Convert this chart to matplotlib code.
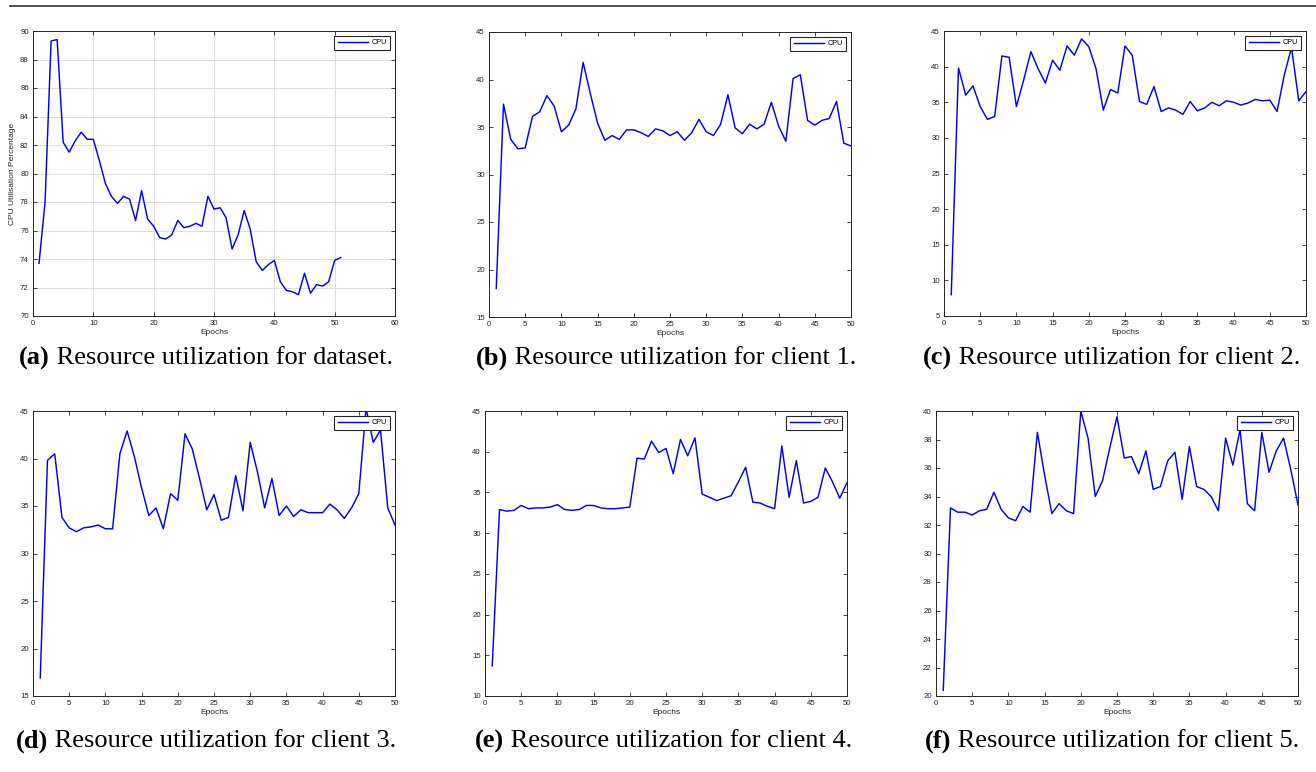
import matplotlib
matplotlib.use("Agg")
import matplotlib.pyplot as plt
from matplotlib.lines import Line2D

W, H = 1316, 772

dataset_cpu = [73.7, 78.0, 89.3, 89.4, 82.2, 81.5, 82.3, 82.9, 82.4, 82.4,
               80.9, 79.3, 78.4, 77.9, 78.4, 78.2, 76.7, 78.8, 76.8, 76.3,
               75.5, 75.4, 75.7, 76.7, 76.2, 76.3, 76.5, 76.3, 78.4, 77.5,
               77.6, 76.9, 74.7, 75.7, 77.4, 76.1, 73.8, 73.2, 73.6, 73.9,
               72.4, 71.8, 71.7, 71.5, 73.0, 71.6, 72.2, 72.1, 72.4, 73.9, 74.1]
client1_cpu = [18.0, 37.4, 33.7, 32.7, 32.8, 36.1, 36.6, 38.3, 37.2, 34.5,
               35.2, 36.9, 41.8, 38.5, 35.4, 33.6, 34.1, 33.7, 34.7, 34.7,
               34.4, 34.0, 34.8, 34.6, 34.1, 34.5, 33.6, 34.4, 35.8, 34.5,
               34.1, 35.3, 38.4, 34.9, 34.3, 35.3, 34.8, 35.3, 37.6, 35.1,
               33.5, 40.1, 40.5, 35.7, 35.2, 35.7, 35.9, 37.7, 33.3, 33.0]
client2_cpu = [8.0, 39.8, 36.0, 37.3, 34.4, 32.6, 33.0, 41.5, 41.3, 34.4,
               38.1, 42.1, 39.7, 37.7, 40.9, 39.5, 42.9, 41.6, 43.9, 42.8,
               39.7, 33.9, 36.8, 36.3, 42.9, 41.6, 35.1, 34.7, 37.2, 33.7,
               34.2, 33.9, 33.3, 35.1, 33.8, 34.2, 35.0, 34.5, 35.2, 35.0,
               34.6, 34.9, 35.4, 35.2, 35.3, 33.7, 38.8, 42.7, 35.2, 36.5]
client3_cpu = [16.9, 39.8, 40.5, 33.8, 32.7, 32.3, 32.7, 32.8, 33.0, 32.6,
               32.6, 40.5, 42.9, 40.2, 36.9, 34.0, 34.8, 32.6, 36.3, 35.6,
               42.6, 41.0, 37.9, 34.6, 36.2, 33.5, 33.8, 38.2, 34.5, 41.7,
               38.6, 34.8, 37.9, 34.0, 35.0, 33.9, 34.6, 34.3, 34.3, 34.3,
               35.2, 34.6, 33.7, 34.8, 36.3, 45.3, 41.7, 43.0, 34.8, 33.0]
client4_cpu = [13.7, 32.9, 32.7, 32.8, 33.4, 33.0, 33.1, 33.1, 33.2, 33.5,
               32.9, 32.8, 32.9, 33.4, 33.4, 33.1, 33.0, 33.0, 33.1, 33.2,
               39.2, 39.1, 41.3, 39.9, 40.4, 37.3, 41.5, 39.5, 41.7, 34.8,
               34.4, 34.0, 34.3, 34.6, 36.3, 38.1, 33.8, 33.7, 33.3, 33.0,
               40.7, 34.4, 38.9, 33.7, 33.9, 34.4, 38.0, 36.3, 34.3, 36.2]
client5_cpu = [20.4, 33.2, 32.9, 32.9, 32.7, 33.0, 33.1, 34.3, 33.1, 32.5,
               32.3, 33.3, 32.9, 38.5, 35.5, 32.8, 33.5, 33.0, 32.8, 40.0,
               38.1, 34.0, 35.1, 37.4, 39.6, 36.7, 36.8, 35.6, 37.2, 34.5,
               34.7, 36.5, 37.1, 33.8, 37.5, 34.7, 34.5, 34.0, 33.0, 38.1,
               36.2, 38.7, 33.5, 33.0, 38.5, 35.7, 37.2, 38.1, 35.9, 33.4]

captions = [("(a)", " Resource utilization for dataset."),
            ("(b)", " Resource utilization for client 1."),
            ("(c)", " Resource utilization for client 2."),
            ("(d)", " Resource utilization for client 3."),
            ("(e)", " Resource utilization for client 4."),
            ("(f)", " Resource utilization for client 5.")]

series = [dataset_cpu, client1_cpu, client2_cpu, client3_cpu, client4_cpu, client5_cpu]
xlims = [(0, 60), (0, 50), (0, 50), (0, 50), (0, 50), (0, 50)]
xsteps = [10, 5, 5, 5, 5, 5]
ylims = [(70, 90), (15, 45), (5, 45), (15, 45), (10, 45), (20, 40)]
ysteps = [2, 5, 5, 5, 5, 2]

# axes boxes in pixels: left, right, top, bottom
boxes = [(33, 395, 31, 316), (489, 851, 32, 317), (944, 1306, 31, 316),
         (33, 395, 411, 696), (485, 847, 411, 696), (936, 1298, 411, 696)]
caption_x = [206, 666, 1112, 206, 664, 1112]
caption_y = [358, 358, 358, 741, 741, 741]

plt.rcParams['font.family'] = ['Liberation Sans', 'DejaVu Sans']
fig = plt.figure(figsize=(W / 100, H / 100), dpi=100)

# top rule
fig.add_artist(Line2D([10 / W, 1.0], [1 - 6 / H, 1 - 6 / H], color='#333333', lw=1.2))

axcol = '#262626'
cap_texts = []
for i, (ys, box) in enumerate(zip(series, boxes)):
    l, r, t, b = box
    ax = fig.add_axes([l / W, 1 - b / H, (r - l) / W, (b - t) / H])
    xs = list(range(1, len(ys) + 1))
    ax.plot(xs, ys, color=(0, 0, 1), lw=1.05, label='CPU')
    ax.set_xlim(*xlims[i])
    ax.set_ylim(*ylims[i])
    ax.set_xticks(range(xlims[i][0], xlims[i][1] + 1, xsteps[i]))
    ax.set_yticks(range(ylims[i][0], ylims[i][1] + 1, ysteps[i]))
    ax.tick_params(direction='in', length=3, width=0.6, colors=axcol,
                   labelsize=5.6, top=True, right=True, pad=3)
    for s in ax.spines.values():
        s.set_color(axcol)
        s.set_linewidth(0.7)
    ax.set_xlabel('Epochs', fontsize=6, color=axcol, labelpad=1.0)
    if i == 0:
        ax.grid(True, color='#dcdcdc', lw=0.7)
        ax.set_axisbelow(True)
        ax.set_ylabel('CPU Utilisation Percentage', fontsize=6, color=axcol, labelpad=3)
    leg = ax.legend(loc='upper right', fontsize=5.2, frameon=True, fancybox=False,
                    edgecolor='#262626', framealpha=1, handlelength=4.2,
                    borderpad=0.45, borderaxespad=0.7, handletextpad=0.5)
    leg.get_frame().set_linewidth(0.8)
    cx = caption_x[i]
    t1 = fig.text(cx / W, 1 - caption_y[i] / H, captions[i][0], fontsize=19,
                  fontweight='bold', family='Liberation Serif', va='center', ha='left')
    t2 = fig.text(cx / W, 1 - caption_y[i] / H, captions[i][1], fontsize=19,
                  family='Liberation Serif', va='center', ha='left')
    cap_texts.append((cx, t1, t2))

fig.canvas.draw()
rend = fig.canvas.get_renderer()
for cx, t1, t2 in cap_texts:
    w1 = t1.get_window_extent(rend).width
    w2 = t2.get_window_extent(rend).width
    x0 = cx - (w1 + w2) / 2
    t1.set_x(x0 / W)
    t2.set_x((x0 + w1) / W)

fig.savefig('out.png', dpi=100)
